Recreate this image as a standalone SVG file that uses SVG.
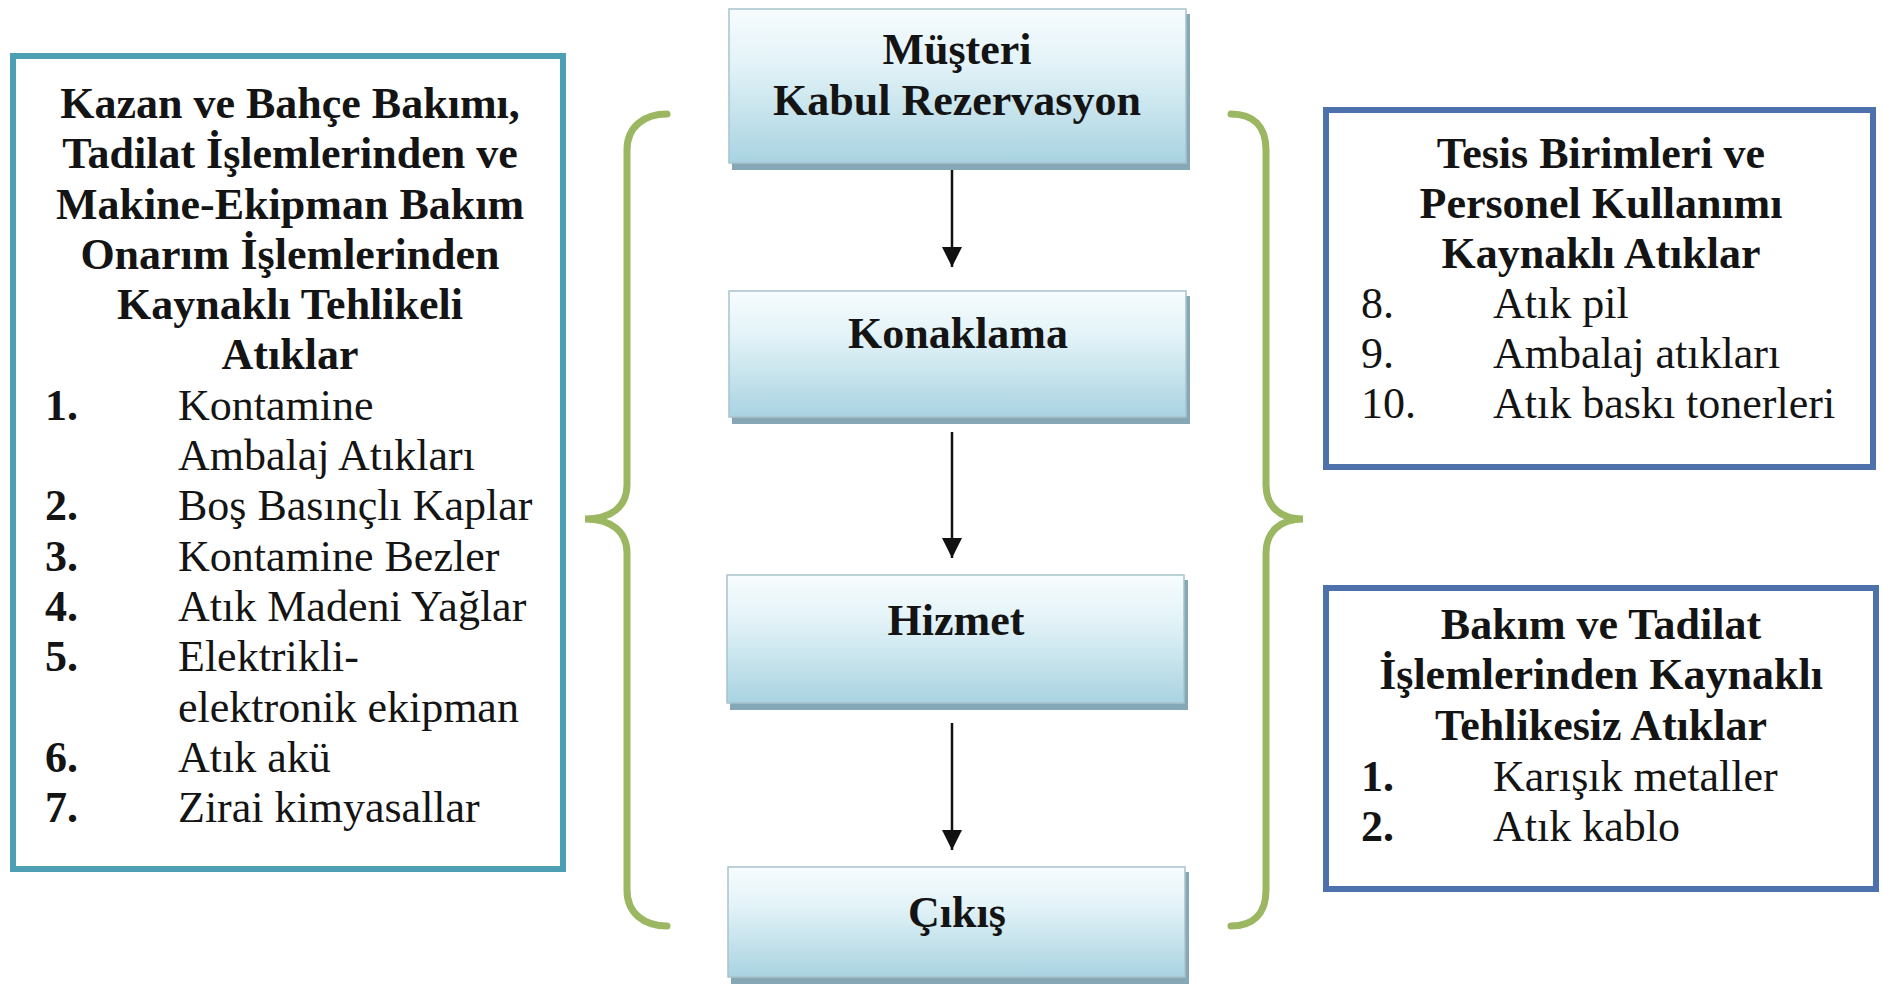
<svg xmlns="http://www.w3.org/2000/svg" width="1883" height="987" viewBox="0 0 1883 987">
<defs>
<linearGradient id="boxGrad" x1="0" y1="0" x2="0" y2="1">
<stop offset="0" stop-color="#F7FCFE"/>
<stop offset="0.35" stop-color="#E3F3F8"/>
<stop offset="1" stop-color="#A9D3E1"/>
</linearGradient>
<marker id="arrow" viewBox="0 0 10 10" refX="10" refY="5" markerWidth="8" markerHeight="8" markerUnits="strokeWidth" orient="auto">
<path d="M0,0 L10,5 L0,10 z" fill="#111"/>
</marker>
<style>
.t{font-family:"Liberation Serif","Times New Roman",serif;font-size:44px;fill:#141414}
.b{font-weight:bold}
.c{text-anchor:middle}
.shadow{fill:#86A7B5}
.cbox{fill:url(#boxGrad);stroke:#A8C3CC;stroke-width:1.5}
.brace{fill:none;stroke:#9CB762;stroke-width:7;stroke-linecap:round}
.conn{stroke:#111;stroke-width:2.5;fill:none}
</style>
</defs>
<rect width="1883" height="987" fill="#FFFFFF"/>

<g id="braces">
<path class="brace" d="M667 114 C645 114 627 126 627 150 L627 485 C627 506 612 519 585 519 C612 519 627 532 627 553 L627 890 C627 914 645 926 667 926"/>
<path class="brace" d="M1231 114 C1253 114 1266 126 1266 150 L1266 485 C1266 506 1280 519 1303 519 C1280 519 1266 532 1266 553 L1266 890 C1266 914 1253 926 1231 926"/>
</g>

<g id="connectors">
<line class="conn" x1="952" y1="168" x2="952" y2="267" marker-end="url(#arrow)"/>
<line class="conn" x1="952" y1="432" x2="952" y2="558" marker-end="url(#arrow)"/>
<line class="conn" x1="952" y1="723" x2="952" y2="850" marker-end="url(#arrow)"/>
</g>

<g id="node-musteri">
<rect class="shadow" x="732" y="14" width="458" height="156"/>
<rect class="cbox" x="729" y="9" width="457" height="154"/>
<text class="t b c" x="957" y="64">Müşteri</text>
<text class="t b c" x="957" y="115">Kabul Rezervasyon</text>
</g>

<g id="node-konaklama">
<rect class="shadow" x="732" y="296" width="458" height="128"/>
<rect class="cbox" x="729" y="291" width="457" height="126"/>
<text class="t b c" x="958" y="348">Konaklama</text>
</g>

<g id="node-hizmet">
<rect class="shadow" x="730" y="580" width="458" height="130"/>
<rect class="cbox" x="727" y="575" width="457" height="128"/>
<text class="t b c" x="956" y="635">Hizmet</text>
</g>

<g id="node-cikis">
<rect class="shadow" x="731" y="872" width="458" height="112"/>
<rect class="cbox" x="728" y="867" width="457" height="110"/>
<text class="t b c" x="957" y="927">Çıkış</text>
</g>

<g id="node-left">
<rect x="13" y="56" width="550" height="813" fill="#FFFFFF" stroke="#4E9FB3" stroke-width="6"/>
<text class="t b c" x="290" y="118">Kazan ve Bahçe Bakımı,</text>
<text class="t b c" x="290" y="168">Tadilat İşlemlerinden ve</text>
<text class="t b c" x="290" y="219">Makine-Ekipman Bakım</text>
<text class="t b c" x="290" y="269">Onarım İşlemlerinden</text>
<text class="t b c" x="290" y="319">Kaynaklı Tehlikeli</text>
<text class="t b c" x="290" y="369">Atıklar</text>
<text class="t b" x="45" y="420">1.</text>
<text class="t" x="178" y="420">Kontamine</text>
<text class="t" x="178" y="470">Ambalaj Atıkları</text>
<text class="t b" x="45" y="520">2.</text>
<text class="t" x="178" y="520">Boş Basınçlı Kaplar</text>
<text class="t b" x="45" y="571">3.</text>
<text class="t" x="178" y="571">Kontamine Bezler</text>
<text class="t b" x="45" y="621">4.</text>
<text class="t" x="178" y="621">Atık Madeni Yağlar</text>
<text class="t b" x="45" y="671">5.</text>
<text class="t" x="178" y="671">Elektrikli-</text>
<text class="t" x="178" y="722">elektronik ekipman</text>
<text class="t b" x="45" y="772">6.</text>
<text class="t" x="178" y="772">Atık akü</text>
<text class="t b" x="45" y="822">7.</text>
<text class="t" x="178" y="822">Zirai kimyasallar</text>
</g>

<g id="node-right-top">
<rect x="1326" y="110" width="547" height="357" fill="#FFFFFF" stroke="#4D72AB" stroke-width="6"/>
<text class="t b c" x="1601" y="168">Tesis Birimleri ve</text>
<text class="t b c" x="1601" y="218">Personel Kullanımı</text>
<text class="t b c" x="1601" y="268">Kaynaklı Atıklar</text>
<text class="t" x="1361" y="318">8.</text>
<text class="t" x="1493" y="318">Atık pil</text>
<text class="t" x="1361" y="368">9.</text>
<text class="t" x="1493" y="368">Ambalaj atıkları</text>
<text class="t" x="1361" y="418">10.</text>
<text class="t" x="1493" y="418">Atık baskı tonerleri</text>
</g>

<g id="node-right-bottom">
<rect x="1326" y="588" width="550" height="301" fill="#FFFFFF" stroke="#4D72AB" stroke-width="6"/>
<text class="t b c" x="1601" y="639">Bakım ve Tadilat</text>
<text class="t b c" x="1601" y="689">İşlemlerinden Kaynaklı</text>
<text class="t b c" x="1601" y="740">Tehlikesiz Atıklar</text>
<text class="t b" x="1361" y="791">1.</text>
<text class="t" x="1493" y="791">Karışık metaller</text>
<text class="t b" x="1361" y="841">2.</text>
<text class="t" x="1493" y="841">Atık kablo</text>
</g>
</svg>
